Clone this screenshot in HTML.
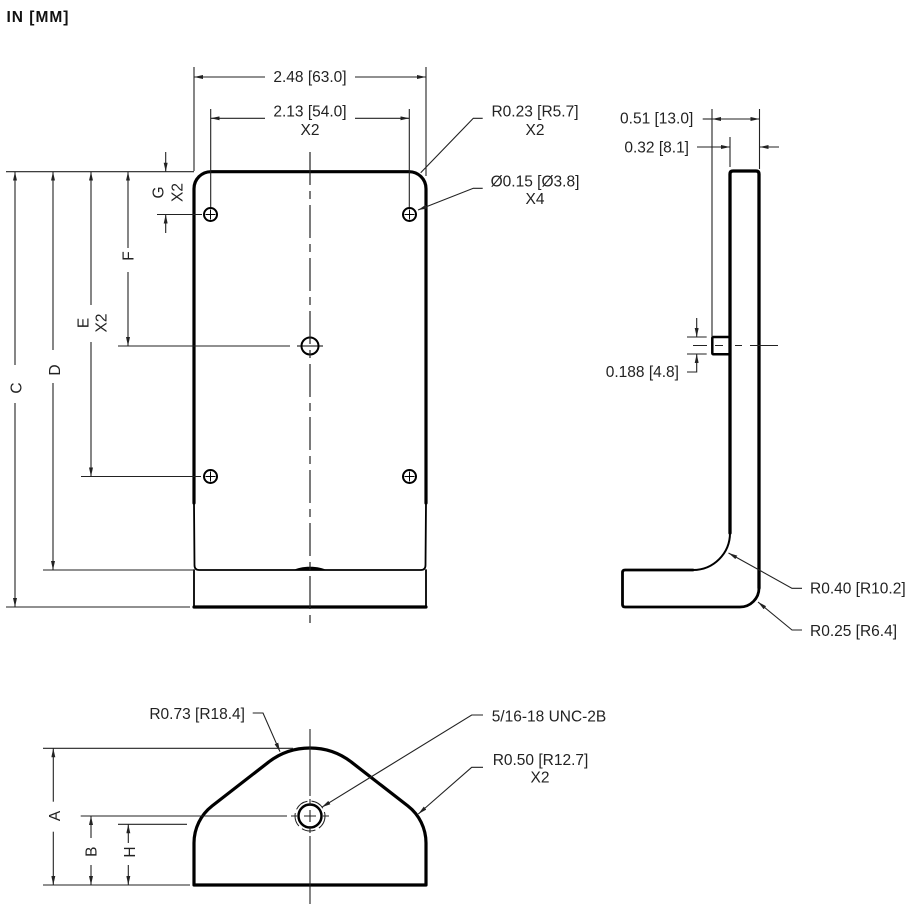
<!DOCTYPE html>
<html>
<head>
<meta charset="utf-8">
<style>
  html,body{margin:0;padding:0;background:#fff;}
  svg{display:block;}
  text{font-family:"Liberation Sans",Arial,sans-serif;fill:#222;}
</style>
</head>
<body>
<svg width="917" height="907" viewBox="0 0 917 907" xmlns="http://www.w3.org/2000/svg">
  <defs>
    <marker id="a" viewBox="0 0 9 4" refX="9" refY="2" markerWidth="9" markerHeight="4" markerUnits="userSpaceOnUse" orient="auto-start-reverse">
      <path d="M0,0 L9,2 L0,4 z" fill="#222"/>
    </marker>
  </defs>
  <rect width="917" height="907" fill="#fff"/>

  <!-- Title -->
  <text x="6.5" y="22" font-size="15.5" font-weight="bold" letter-spacing="1" style="fill:#111">IN [MM]</text>

  <!-- ================= FRONT VIEW ================= -->
  <g fill="none" stroke="#000" stroke-linecap="round" stroke-linejoin="round">
    <path d="M194,503 L194,188.7 A17,17 0 0 1 211,171.7 L409,171.7 A17,17 0 0 1 426,188.7 L426,503" stroke-width="3.2"/>
    <path d="M194,503 L194.5,565 Q194.5,570 199,570 L421,570 Q425.5,570 425.5,565 L426,503" stroke-width="1.8"/>
    <path d="M194,570 L194,607 M426,570 L426,607" stroke-width="1.8"/>
    <path d="M194,607 L426,607" stroke-width="3.2"/>
  </g>
  <path d="M293,570.5 C300,565.5 320,565.5 327,570.5 Z" fill="#000"/>

  <!-- holes -->
  <g fill="none" stroke="#000">
    <circle cx="210.5" cy="214.5" r="6.5" stroke-width="2"/>
    <circle cx="409.5" cy="214.5" r="6.5" stroke-width="2"/>
    <circle cx="210.5" cy="476.5" r="6.5" stroke-width="2"/>
    <circle cx="409.5" cy="476.5" r="6.5" stroke-width="2"/>
    <circle cx="310" cy="346" r="8.5" stroke-width="2"/>
    <g stroke-width="1">
      <path d="M205.5,214.5 H215.5 M210.5,209.5 V219.5"/>
      <path d="M404.5,214.5 H414.5 M409.5,209.5 V219.5"/>
      <path d="M205.5,476.5 H215.5 M210.5,471.5 V481.5"/>
      <path d="M404.5,476.5 H414.5 M409.5,471.5 V481.5"/>
      <path d="M297,346 H323"/>
    </g>
  </g>

  <!-- centerline front -->
  <path d="M310,152 L310,627" stroke="#222" stroke-width="1.2" stroke-dasharray="33 6 8 6" fill="none"/>

  <!-- dimensions front -->
  <g stroke="#222" stroke-width="1.1" fill="none">
    <!-- 2.48 -->
    <path d="M194,67 V171 M426,67 V176"/>
    <path d="M265,77 H194" marker-end="url(#a)"/>
    <path d="M355,77 H426" marker-end="url(#a)"/>
    <!-- 2.13 -->
    <path d="M210.7,109 V207 M409.3,109 V207"/>
    <path d="M265,118.3 H210.7" marker-end="url(#a)"/>
    <path d="M355,118.3 H409.3" marker-end="url(#a)"/>
    <!-- top horizontal extension -->
    <path d="M6,171.7 H194"/>
    <!-- C -->
    <path d="M15,365 V171.7" marker-end="url(#a)"/>
    <path d="M15,403 V607" marker-end="url(#a)"/>
    <path d="M6,607 H190"/>
    <!-- D -->
    <path d="M53,350 V171.7" marker-end="url(#a)"/>
    <path d="M53,383 V570" marker-end="url(#a)"/>
    <path d="M43,570 H194"/>
    <!-- E -->
    <path d="M91,305 V171.7" marker-end="url(#a)"/>
    <path d="M91,342 V476.5" marker-end="url(#a)"/>
    <path d="M81,476.5 H201"/>
    <!-- F -->
    <path d="M128,248 V171.7" marker-end="url(#a)"/>
    <path d="M128,272 V346" marker-end="url(#a)"/>
    <path d="M118,346 H290"/>
    <!-- G -->
    <path d="M165.7,152 V171.7" marker-end="url(#a)"/>
    <path d="M165.7,233 V214.5" marker-end="url(#a)"/>
    <path d="M157,214.5 H202"/>
    <!-- R0.23 leader -->
    <path d="M482.7,118.3 H473.3 L420.7,172.7"/>
    <!-- Ø0.15 leader -->
    <path d="M482.7,188.3 H473.3 L418,210" marker-end="url(#a)"/>
  </g>

  <!-- front texts -->
  <g font-size="15.5" text-anchor="middle">
    <text x="310" y="82">2.48 [63.0]</text>
    <text x="310" y="116.7">2.13 [54.0]</text>
    <text x="310" y="135">X2</text>
    <text x="535" y="116.7">R0.23 [R5.7]</text>
    <text x="535" y="135">X2</text>
    <text x="535" y="186.7">Ø0.15 [Ø3.8]</text>
    <text x="535" y="204">X4</text>
    <text transform="translate(21.7,388) rotate(-90)">C</text>
    <text transform="translate(60,370) rotate(-90)">D</text>
    <text transform="translate(88.3,323) rotate(-90)">E</text>
    <text transform="translate(106.7,323) rotate(-90)">X2</text>
    <text transform="translate(133.5,256) rotate(-90)">F</text>
    <text transform="translate(163.3,192.5) rotate(-90)">G</text>
    <text transform="translate(182.7,192.5) rotate(-90)">X2</text>
  </g>

  <!-- ================= SIDE VIEW ================= -->
  <g fill="none" stroke="#000" stroke-linecap="round" stroke-linejoin="round">
    <path d="M730,533 L730,174 Q730,171 733,171 L756,171 Q759,171 759,174 L759,588" stroke-width="3.3"/>
    <path d="M759,588 A19,19 0 0 1 740,607 L625,607 Q622.5,607 622.5,604.5 L622.5,572.5 Q622.5,570 625,570 L693,570" stroke-width="2.8"/>
    <path d="M693,570 A37,37 0 0 0 730,533" stroke-width="2"/>
    <rect x="712.3" y="337" width="17.7" height="17.3" rx="1" stroke-width="2.5"/>
  </g>
  <g stroke="#222" stroke-width="1.1" fill="none">
    <!-- 0.51 -->
    <path d="M712,109 V337 M759.5,109 V169"/>
    <path d="M702.7,119 H712"/>
    <path d="M712,119 H759.5" marker-start="url(#a)" marker-end="url(#a)"/>
    <!-- 0.32 -->
    <path d="M730,137 V167"/>
    <path d="M697,147 H730" marker-end="url(#a)"/>
    <path d="M779,147 H759.5" marker-end="url(#a)"/>
    <!-- 0.188 -->
    <path d="M687,337 H706.7 M687,354 H706.7"/>
    <path d="M696.7,318 V337" marker-end="url(#a)"/>
    <path d="M687,372 H696.7 V354" marker-end="url(#a)"/>
    <!-- centerline -->
    <path d="M693,345.5 H707 M715,345.5 H723 M735,345.5 H742 M750,345.5 H778"/>
    <!-- R0.40 -->
    <path d="M802,588.3 H792 L728.5,553" marker-end="url(#a)"/>
    <!-- R0.25 -->
    <path d="M802,630 H792 L758,602" marker-end="url(#a)"/>
  </g>
  <g font-size="15.5">
    <text x="693.3" y="123.3" text-anchor="end">0.51 [13.0]</text>
    <text x="689" y="152.3" text-anchor="end">0.32 [8.1]</text>
    <text x="679" y="377" text-anchor="end">0.188 [4.8]</text>
    <text x="810" y="593.3">R0.40 [R10.2]</text>
    <text x="810" y="636">R0.25 [R6.4]</text>
  </g>

  <!-- ================= BOTTOM VIEW ================= -->
  <path d="M194,885 L194,843 A47,47 0 0 1 212.2,805.9 L268.3,762.3 A68,68 0 0 1 351.7,762.3 L407.8,805.9 A47,47 0 0 1 426,843 L426,885 Z" fill="none" stroke="#000" stroke-width="3.2" stroke-linejoin="round"/>
  <circle cx="310" cy="816" r="11.5" fill="none" stroke="#000" stroke-width="2.5"/>
  <circle cx="310" cy="816" r="15" fill="none" stroke="#222" stroke-width="1" stroke-dasharray="14 4"/>
  <g stroke="#222" stroke-width="1.1" fill="none">
    <path d="M304,816 H316 M310,810 V822"/>
    <!-- centerlines -->
    <path d="M310,729 V796 M310,799 V806 M310,826 V833 M310,836 V904"/>
    <path d="M80.7,816 H287 M291,816 H297 M323,816 H329"/>
    <!-- extension lines -->
    <path d="M43,748.3 H293"/>
    <path d="M118,824.3 H187"/>
    <path d="M43,885 H190"/>
    <!-- A -->
    <path d="M53.3,801.7 V748.3" marker-end="url(#a)"/>
    <path d="M53.3,831.7 V885" marker-end="url(#a)"/>
    <!-- B -->
    <path d="M91,838 V816" marker-end="url(#a)"/>
    <path d="M91,865 V885" marker-end="url(#a)"/>
    <!-- H -->
    <path d="M128.3,843 V824.3" marker-end="url(#a)"/>
    <path d="M128.3,865 V885" marker-end="url(#a)"/>
    <!-- leaders -->
    <path d="M252.7,713 H263 L280,751.7" marker-end="url(#a)"/>
    <path d="M483,715 H471.7 L321.7,807.3" marker-end="url(#a)"/>
    <path d="M483,767.3 H471.7 L418.3,814" marker-end="url(#a)"/>
  </g>
  <g font-size="15.5">
    <text x="245" y="719" text-anchor="end">R0.73 [R18.4]</text>
    <text x="491.7" y="721.5">5/16-18 UNC-2B</text>
    <text x="492.7" y="765">R0.50 [R12.7]</text>
    <text x="540" y="782.5" text-anchor="middle">X2</text>
    <text transform="translate(60,816) rotate(-90)" text-anchor="middle">A</text>
    <text transform="translate(96.7,851.7) rotate(-90)" text-anchor="middle">B</text>
    <text transform="translate(135,852) rotate(-90)" text-anchor="middle">H</text>
  </g>
</svg>
</body>
</html>
